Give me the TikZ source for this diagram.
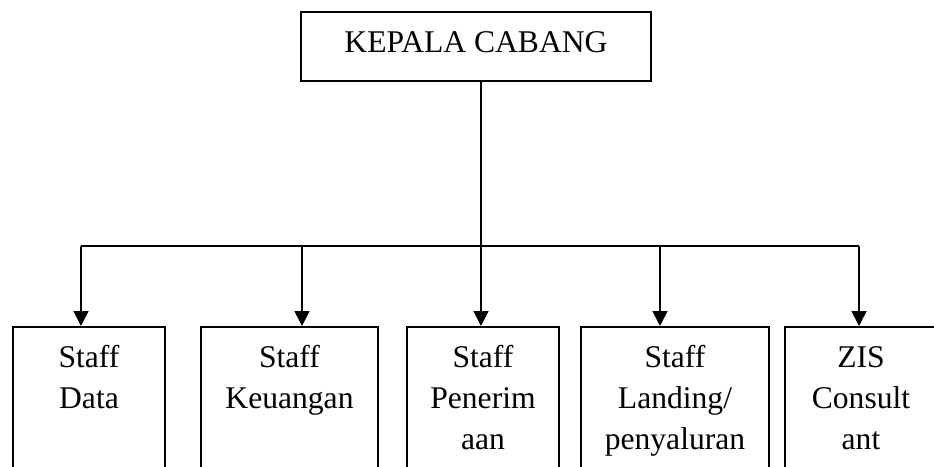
\documentclass[tikz,border=0pt]{standalone}
\usepackage{fontspec}
\setmainfont{Liberation Serif}
\usetikzlibrary{positioning}
\usetikzlibrary{arrows.meta}

\begin{document}
\begin{tikzpicture}[
x=0.5pt, y=-0.5pt,
font=\fontsize{15.8}{20.5}\selectfont,
headnode/.style={rectangle, draw, thick, minimum width=175pt, inner sep=0pt, text height=20pt, text depth=14.5pt},
staffbox/.style={rectangle, draw, thick, anchor=north, align=center, inner xsep=2pt, inner ysep=3pt, text height=17.5pt, text depth=70pt},
arr/.style={-{Triangle[width=7.5pt,length=7.5pt]}, thick},
]
\useasboundingbox (0,0) rectangle (934,467);
\clip (0,0) rectangle (934,467);

%Nodes
\node[headnode] (kepala) at (476,46.5) {KEPALA CABANG};
\node[staffbox, text width=72pt]   (data)     at (89,326)    {Staff\\Data};
\node[staffbox, text width=84.5pt] (keuangan) at (289.5,326) {Staff\\Keuangan};
\node[staffbox, text width=72pt]   (terima)   at (483,326)   {Staff\\Penerim\\aan};
\node[staffbox, text width=90pt]   (landing)  at (675,326)   {Staff\\Landing/\\penyaluran};
\node[staffbox, text width=72pt]   (zis)      at (861,326)   {ZIS\\Consult\\ant};

%Bus
\coordinate (b1) at (81,246);
\coordinate (b2) at (302,246);
\coordinate (b3) at (481,246);
\coordinate (b4) at (660,246);
\coordinate (b5) at (859,246);

%Lines
\draw[thick] (b1) -- (b5);
\draw[arr] (kepala.south -| b3) -- (b3 |- terima.north);
\draw[arr] (b1) -- (b1 |- data.north);
\draw[arr] (b2) -- (b2 |- keuangan.north);
\draw[arr] (b4) -- (b4 |- landing.north);
\draw[arr] (b5) -- (b5 |- zis.north);
\end{tikzpicture}
\end{document}
